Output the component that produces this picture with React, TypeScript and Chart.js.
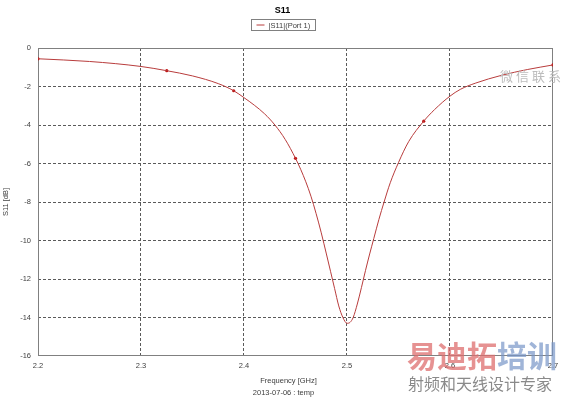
import React, { useEffect, useRef } from 'react';
import { Chart, registerables } from 'chart.js';

Chart.register(...registerables);

const chartTitle = 'S11';
const seriesLabel = '|S11|(Port 1)';
const xAxisTitle = 'Frequency [GHz]';
const yAxisTitle = 'S11 [dB]';
const footerText = '2013-07-06 : temp';

const freqGHz = [
  2.2, 2.25, 2.3, 2.325, 2.35, 2.375, 2.39, 2.4, 2.41, 2.42, 2.43, 2.44, 2.45, 2.455,
  2.46, 2.465, 2.47, 2.475, 2.48, 2.484, 2.488, 2.492, 2.496, 2.5, 2.503, 2.506, 2.51,
  2.514, 2.518, 2.522, 2.526, 2.531, 2.536, 2.542, 2.55, 2.56, 2.5745, 2.585, 2.6, 2.61,
  2.625, 2.65, 2.675, 2.7,
];
const s11dB = [
  -0.56, -0.7, -0.96, -1.18, -1.45, -1.85, -2.22, -2.58, -2.97, -3.42, -4.0, -4.75, -5.73, -6.3,
  -6.95, -7.7, -8.6, -9.6, -10.7, -11.6, -12.5, -13.4, -14.0, -14.3, -14.25, -14.0, -13.3,
  -12.45, -11.55, -10.7, -9.9, -8.9, -8.0, -7.0, -5.95, -4.85, -3.8, -3.2, -2.5, -2.15,
  -1.82, -1.42, -1.12, -0.88,
];

const markerFreqGHz = [2.2, 2.325, 2.39, 2.45, 2.5745, 2.7];
const markerS11dB = [-0.56, -1.18, -2.22, -5.73, -3.8, -0.88];

const xTicks = [2.2, 2.3, 2.4, 2.5, 2.6, 2.7];
const yTicks = [0, -2, -4, -6, -8, -10, -12, -14, -16];

const watermarkMain = ['易迪拓', '培训'];
const watermarkSub = '射频和天线设计专家';
const watermarkContact = '微信联系';

const FONT = '"Liberation Sans", Arial, sans-serif';
const CJK = '"Noto Sans CJK SC", sans-serif';
const LINE_COLOR = '#b83c3c';
const GRID_COLOR = '#5a5a5a';
const FRAME_COLOR = '#808080';
const TEXT_COLOR = '#404040';

const decorPlugin = {
  id: 'decor',
  beforeDatasetsDraw(chart: any) {
    const { ctx, chartArea } = chart;
    ctx.save();
    ctx.strokeStyle = FRAME_COLOR;
    ctx.lineWidth = 1;
    ctx.setLineDash([]);
    ctx.strokeRect(
      chartArea.left + 0.5,
      chartArea.top + 0.5,
      chartArea.right - chartArea.left - 1,
      chartArea.bottom - chartArea.top - 1
    );
    ctx.restore();
  },
  afterDraw(chart: any) {
    const { ctx, chartArea, width } = chart;
    const cx = width / 2;
    ctx.save();
    // title
    ctx.fillStyle = '#000';
    ctx.font = `bold 9px ${FONT}`;
    ctx.textAlign = 'center';
    ctx.textBaseline = 'middle';
    ctx.fillText(chartTitle, cx - 1, 10.5);

    // legend
    ctx.font = `7.5px ${FONT}`;
    const tw = ctx.measureText(seriesLabel).width;
    const boxW = tw + 22;
    const bx = Math.round(cx - boxW / 2) - 0.5;
    ctx.strokeStyle = FRAME_COLOR;
    ctx.lineWidth = 1;
    ctx.strokeRect(bx, 19.5, Math.round(boxW), 11);
    ctx.strokeStyle = LINE_COLOR;
    ctx.beginPath();
    ctx.moveTo(bx + 5, 25);
    ctx.lineTo(bx + 13, 25);
    ctx.stroke();
    ctx.fillStyle = TEXT_COLOR;
    ctx.textAlign = 'left';
    ctx.fillText(seriesLabel, bx + 17, 25.5);

    // x axis title and footer
    ctx.textAlign = 'center';
    ctx.fillText(xAxisTitle, (chartArea.left + chartArea.right) / 2 - 7, 380.5);
    ctx.fillText(footerText, cx, 392.5);

    // watermark
    ctx.textBaseline = 'middle';
    ctx.textAlign = 'left';
    ctx.font = `bold 30px ${CJK}`;
    ctx.fillStyle = 'rgba(222, 110, 110, 0.75)';
    ctx.fillText(watermarkMain[0], 407, 356);
    const w0 = ctx.measureText(watermarkMain[0]).width;
    ctx.fillStyle = 'rgba(120, 150, 200, 0.7)';
    ctx.fillText(watermarkMain[1], 407 + w0, 356);
    ctx.font = `16px ${CJK}`;
    ctx.fillStyle = '#8a8a8a';
    ctx.fillText(watermarkSub, 408, 384);
    ctx.font = `13px ${CJK}`;
    ctx.fillStyle = '#bdbdbd';
    const chars = watermarkContact.split('');
    chars.forEach((ch, i) => ctx.fillText(ch, 500 + i * 16, 76));
    ctx.restore();
  },
};

export default function App() {
  const canvasRef = useRef<HTMLCanvasElement | null>(null);

  useEffect(() => {
    const canvas = canvasRef.current;
    if (!canvas) return;
    const near = (a: number, b: number) => Math.abs(a - b) < 1e-6;
    const chart = new Chart(canvas, {
      type: 'line',
      data: {
        datasets: [
          {
            label: seriesLabel,
            data: freqGHz.map((x, i) => ({ x, y: s11dB[i] })),
            borderColor: LINE_COLOR,
            borderWidth: 1,
            pointRadius: 0,
            cubicInterpolationMode: 'monotone',
            fill: false,
          },
          {
            label: 'markers',
            data: markerFreqGHz.map((x, i) => ({ x, y: markerS11dB[i] })),
            showLine: false,
            pointStyle: 'circle',
            pointRadius: 1.6,
            pointBackgroundColor: '#c01010',
            pointBorderColor: '#c01010',
            pointBorderWidth: 0,
          },
        ],
      } as any,
      options: {
        animation: false,
        responsive: false,
        maintainAspectRatio: false,
        devicePixelRatio: 1,
        layout: { padding: { left: 0, right: 14, top: 48, bottom: 0 } },
        plugins: {
          legend: { display: false },
          title: { display: false },
          tooltip: { enabled: false },
        },
        scales: {
          x: {
            type: 'linear',
            position: 'bottom',
            min: xTicks[0],
            max: xTicks[xTicks.length - 1],
            afterBuildTicks: (scale: any) => {
              scale.ticks = xTicks.map((v) => ({ value: v }));
            },
            afterFit: (scale: any) => {
              scale.height = 44;
            },
            ticks: {
              autoSkip: false,
              maxRotation: 0,
              padding: 5,
              color: TEXT_COLOR,
              font: { family: FONT, size: 7.5 },
              callback: (v: any) => String(v),
            },
            grid: {
              drawTicks: false,
              lineWidth: 1,
              color: (c: any) =>
                c.tick && (near(c.tick.value, xTicks[0]) || near(c.tick.value, xTicks[xTicks.length - 1]))
                  ? 'rgba(0,0,0,0)'
                  : GRID_COLOR,
            },
            border: { display: false, dash: [3, 2] },
          },
          y: {
            type: 'linear',
            position: 'left',
            min: yTicks[yTicks.length - 1],
            max: yTicks[0],
            afterBuildTicks: (scale: any) => {
              scale.ticks = yTicks.slice().reverse().map((v) => ({ value: v }));
            },
            afterFit: (scale: any) => {
              scale.width = 38;
            },
            ticks: {
              autoSkip: false,
              padding: 7,
              color: TEXT_COLOR,
              font: { family: FONT, size: 7.5 },
              callback: (v: any) => String(v),
            },
            title: {
              display: true,
              text: yAxisTitle,
              color: TEXT_COLOR,
              font: { family: FONT, size: 7.5 },
              padding: { top: 1, bottom: 0 },
            },
            grid: {
              drawTicks: false,
              lineWidth: 1,
              color: (c: any) =>
                c.tick && (near(c.tick.value, yTicks[0]) || near(c.tick.value, yTicks[yTicks.length - 1]))
                  ? 'rgba(0,0,0,0)'
                  : GRID_COLOR,
            },
            border: { display: false, dash: [3, 2] },
          },
        },
      } as any,
      plugins: [decorPlugin],
    });
    return () => chart.destroy();
  }, []);

  return (
    <div style={{ position: 'fixed', left: 0, top: 0, width: 567, height: 400, background: '#fff' }}>
      <canvas ref={canvasRef} width={567} height={400} style={{ display: 'block', width: 567, height: 400 }} />
    </div>
  );
}
